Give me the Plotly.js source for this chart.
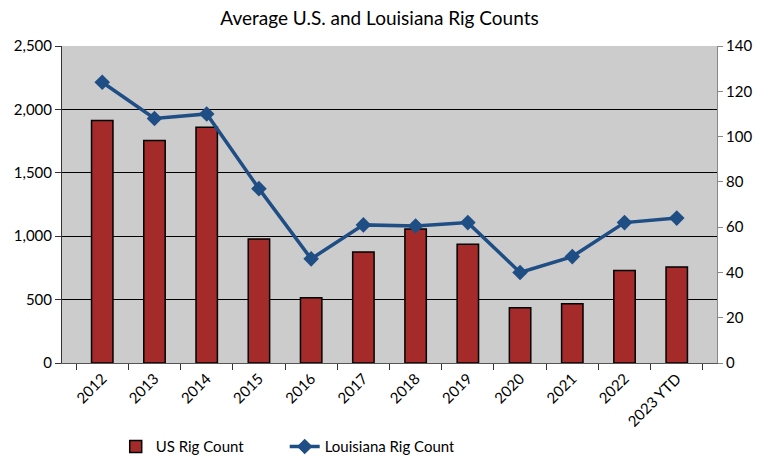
<!DOCTYPE html>
<html><head><meta charset="utf-8">
<script src="https://cdn.plot.ly/plotly-3.0.1.min.js"></script>
<style>body{margin:0;background:#fff}#c{width:759px;height:457px}</style>
</head><body><div id="c"></div>
<script>
const categories = ["2012","2013","2014","2015","2016","2017","2018","2019","2020","2021","2022","2023 YTD"];
const usRigCount = [1913, 1755, 1860, 978, 514, 876, 1057, 937, 435, 467, 729, 758];
const laRigCount = [124, 108, 110, 77, 46, 61, 60.5, 62, 40, 47, 62, 64];
const leftTicks = [0, 500, 1000, 1500, 2000, 2500];
const rightTicks = [0, 20, 40, 60, 80, 100, 120, 140];

const FONT = "Lato, 'DejaVu Sans', sans-serif";
const traces = [
  {type:"bar", name:"US Rig Count", x:categories, y:usRigCount,
   marker:{color:"#a52a2a", line:{color:"#000", width:1.5}}, yaxis:"y"},
  {type:"scatter", mode:"lines+markers", name:"Louisiana Rig Count", x:categories, y:laRigCount,
   line:{color:"#1f4e85", width:3.5}, marker:{symbol:"diamond", size:12, color:"#1f4e85"}, yaxis:"y2"}
];
const layout = {
  width:759, height:457,
  margin:{l:62, r:42, t:46, b:94, autoexpand:false},
  paper_bgcolor:"#fff", plot_bgcolor:"#cccccc",
  font:{family:FONT, size:15, color:"#000"},
  title:{text:"Average U.S. and Louisiana Rig Counts", x:0.5, xanchor:"center", y:0.975, yanchor:"top",
         font:{family:FONT, size:19, color:"#000"}},
  bargap:0.59,
  showlegend:true,
  legend:{orientation:"h", x:0.082, xanchor:"left", y:-0.212, yanchor:"top",
          entrywidth:124, entrywidthmode:"pixels", font:{size:15}, bgcolor:"rgba(0,0,0,0)"},
  xaxis:{type:"category", tickangle:-45, automargin:false, showgrid:false, showline:true, linecolor:"#555", linewidth:1,
         ticks:"outside", tickson:"boundaries", ticklen:6, tickcolor:"#333", tickfont:{size:15}},
  yaxis:{range:[0,2500], tickvals:leftTicks, tickformat:",d", automargin:false, showgrid:true, gridcolor:"#000", gridwidth:1,
         showline:true, linecolor:"#333", ticks:"outside", ticklen:6, tickcolor:"#333", zeroline:false, tickfont:{size:15}},
  yaxis2:{range:[0,140], tickvals:rightTicks, overlaying:"y", side:"right", automargin:false, showgrid:false,
          showline:true, linecolor:"#888", ticks:"outside", ticklen:5, tickcolor:"#888", zeroline:false, tickfont:{size:15}}
};
Plotly.newPlot("c", traces, layout, {displayModeBar:false, staticPlot:true});
</script></body></html>
